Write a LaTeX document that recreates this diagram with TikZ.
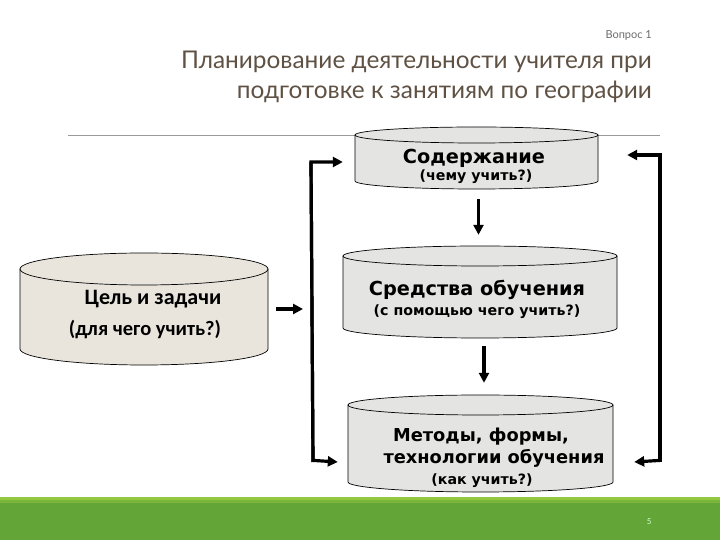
\documentclass[tikz,border=0pt]{standalone}
\usepackage{fontspec}
\usetikzlibrary{arrows.meta}
\newfontfamily\latofont{Lato}
\newfontfamily\dvb{DejaVu Sans}[BoldFont={DejaVu Sans Bold}]
\newfontfamily\carl{Carlito}[BoldFont={Carlito Bold}]
\definecolor{titlecol}{RGB}{95,82,68}
\definecolor{cylgray}{RGB}{228,228,226}
\definecolor{cylbeige}{RGB}{233,229,220}
\definecolor{greenmain}{RGB}{99,165,54}
\definecolor{greenlight}{RGB}{146,201,64}
\definecolor{greenmid}{RGB}{122,182,58}
\newcommand\drawcyl[6]{%
  \fill[#6] (#1-#2,#3) -- (#1-#2,#4) arc[start angle=180,end angle=360,x radius=#2,y radius=#5] -- (#1+#2,#3) arc[start angle=0,end angle=180,x radius=#2,y radius=#5] -- cycle;
  \draw[cylline] (#1-#2,#3) -- (#1-#2,#4) arc[start angle=180,end angle=360,x radius=#2,y radius=#5] -- (#1+#2,#3);
  \draw[cylline] (#1,#3) ellipse[x radius=#2,y radius=#5];
}
\begin{document}
\begin{tikzpicture}[x=1pt,y=1pt,
  cylline/.style={draw=black,line width=0.7pt},
  arr/.style={line width=3.2pt,line join=miter,-{Triangle[length=10pt,width=10pt]}},
  heavy/.style={line width=3.2pt,line join=miter},
  big/.style={font=\dvb\bfseries\fontsize{19.3}{22}\selectfont,inner sep=0pt},
  mid/.style={font=\dvb\bfseries\fontsize{17.8}{20}\selectfont,inner sep=0pt},
  small/.style={font=\dvb\bfseries\fontsize{14.2}{16}\selectfont,inner sep=0pt},
  lefttxt/.style={font=\carl\bfseries\fontsize{20.5}{24}\selectfont,inner sep=0pt},
  box/.style={inner sep=0pt,draw=none}]
\useasboundingbox (0,0) rectangle (720,540);
\fill[white] (0,0) rectangle (720,540);
% footer band
\fill[greenmain] (0,0) rectangle (720,37);
\fill[greenmid] (0,37) rectangle (720,40);
\fill[greenlight] (0,40) rectangle (720,43);
\node[font=\latofont\fontsize{8}{10}\selectfont,text=white!85!green,anchor=east] (pg) at (655,18) {5};
% header
\node[font=\latofont\fontsize{11}{13}\selectfont,text=gray!85!black,anchor=east,inner sep=0pt] (q) at (652,504) {Вопрос 1};
\node[font=\latofont\fontsize{24.4}{30}\selectfont,text=titlecol,anchor=east,inner sep=0pt] (t1) at (652,478) {Планирование деятельности учителя при};
\node[font=\latofont\fontsize{24.4}{30}\selectfont,text=titlecol,anchor=east,inner sep=0pt] (t2) at (652,448) {подготовке к занятиям по географии};
\draw[gray!80,line width=0.9pt] (68,405) -- (660,405);
% cylinders
\drawcyl{476.5}{121.5}{405}{359}{8}{cylgray}
\drawcyl{480}{137}{284}{212}{10}{cylgray}
\drawcyl{480.5}{132.5}{135}{58}{10}{cylgray}
\drawcyl{144}{124}{271}{191}{16}{cylbeige}
\node[box,minimum width=243pt,minimum height=62pt] (cont) at (476.5,382) {};
\node[box,minimum width=274pt,minimum height=92pt] (means) at (480,248) {};
\node[box,minimum width=265pt,minimum height=97pt] (meth) at (480.5,96.5) {};
\node[box,minimum width=248pt,minimum height=112pt] (goal) at (144,231) {};
% texts
\node[big] (c1) at (474,382) {Содержание};
\node[small] (c2) at (476,363) {(чему учить?)};
\node[big] (m1) at (477,250) {Средства обучения};
\node[small] (m2) at (477,228) {(с помощью чего учить?)};
\node[mid] (f1) at (481,103) {Методы, формы,};
\node[mid] (f2) at (494,82) {технологии обучения};
\node[small] (f3) at (482,59) {(как учить?)};
\node[lefttxt,font=\carl\bfseries\fontsize{22}{24}\selectfont] (g1) at (153,241) {Цель и задачи};
\node[lefttxt] (g2) at (145,210) {(для чего учить?)};
% connectors
\coordinate (lt) at (311,378);
\coordinate (lb) at (313,78);
\coordinate (lm) at (312,231);
\coordinate (rt) at (660,385);
\coordinate (rb) at (660,78);
\draw[arr] ([xshift=8pt]goal.east) -- ([xshift=-9pt]lm);
\draw[arr] (lb) -- (lt) -- ([xshift=-12pt]lt -| cont.west);
\draw[heavy] (lt) -- (lb);
\draw[arr] ([yshift=1.6pt]lb) -- ([xshift=-10pt]lb -| meth.west);
\draw[arr] (rb) -- (rt) -- ([xshift=29pt]rt -| cont.east);
\draw[arr] ([yshift=1.6pt]rb) -- ([xshift=21pt]rb -| meth.east);
\draw[arr,shorten <=10pt,shorten >=11pt] ([xshift=2pt]cont.south) -- ([xshift=2pt]cont.south |- means.north);
\draw[arr,shorten <=8pt] ([xshift=4pt]means.south) -- ([xshift=4pt,yshift=12pt]means.south |- meth.north);
\end{tikzpicture}
\end{document}
